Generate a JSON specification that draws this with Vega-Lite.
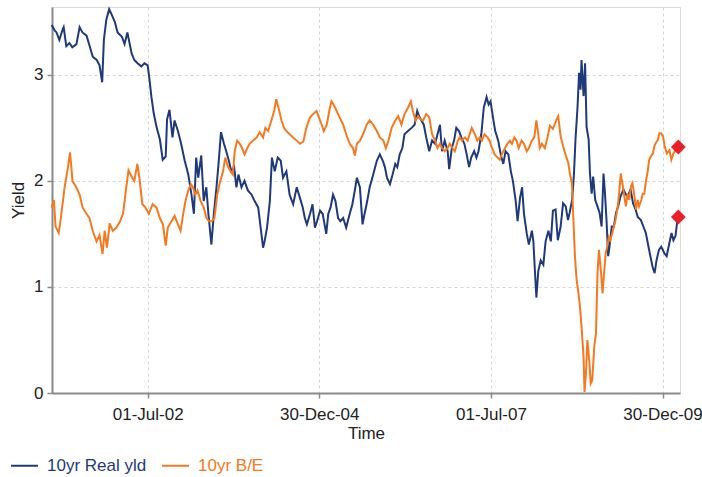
{
"$schema":"https://vega.github.io/schema/vega-lite/v6.json",
"width":628,"height":386,
"autosize":{"type":"none"},
"padding":{"left":52,"top":7,"right":22,"bottom":84},
"background":"white",
"config":{
"font":"Liberation Sans",
"view":{"stroke":"#dcdcdc","strokeWidth":1},
"axis":{"labelFont":"Liberation Sans","titleFont":"Liberation Sans","labelFontSize":17,"titleFontSize":17,"titleFontWeight":"normal","labelColor":"#222222","titleColor":"#222222","domainColor":"#8a8a8a","domainWidth":2,"tickColor":"#8a8a8a","tickWidth":1.5,"tickSize":5,"gridColor":"#d4d4d4","gridDash":[3,3],"gridWidth":1}
},
"datasets":{
"real":[
{"t":"2001-02-05","v":3.47},{"t":"2001-02-21","v":3.42},{"t":"2001-03-03","v":3.40},{"t":"2001-03-18","v":3.33},{"t":"2001-04-05","v":3.43},{"t":"2001-04-10","v":3.45},{"t":"2001-04-24","v":3.27},{"t":"2001-05-11","v":3.30},{"t":"2001-05-26","v":3.26},{"t":"2001-06-17","v":3.29},{"t":"2001-07-04","v":3.45},{"t":"2001-07-19","v":3.40},{"t":"2001-08-10","v":3.37},{"t":"2001-08-25","v":3.28},{"t":"2001-09-12","v":3.17},{"t":"2001-10-03","v":3.14},{"t":"2001-10-18","v":3.09},{"t":"2001-11-01","v":2.93},{"t":"2001-11-10","v":3.33},{"t":"2001-11-23","v":3.52},{"t":"2001-12-08","v":3.62},{"t":"2001-12-21","v":3.57},
{"t":"2002-01-07","v":3.50},{"t":"2002-01-22","v":3.40},{"t":"2002-02-14","v":3.36},{"t":"2002-02-28","v":3.29},{"t":"2002-03-15","v":3.40},{"t":"2002-04-07","v":3.20},{"t":"2002-04-21","v":3.14},{"t":"2002-05-08","v":3.11},{"t":"2002-05-28","v":3.08},{"t":"2002-06-14","v":3.11},{"t":"2002-07-01","v":3.09},{"t":"2002-07-11","v":2.95},{"t":"2002-07-21","v":2.79},{"t":"2002-08-02","v":2.64},{"t":"2002-08-17","v":2.51},{"t":"2002-09-04","v":2.39},{"t":"2002-09-19","v":2.20},{"t":"2002-10-05","v":2.23},{"t":"2002-10-12","v":2.58},{"t":"2002-10-25","v":2.67},{"t":"2002-11-10","v":2.41},{"t":"2002-11-21","v":2.57},{"t":"2002-12-09","v":2.47},{"t":"2002-12-26","v":2.35},
{"t":"2003-01-14","v":2.19},{"t":"2003-02-02","v":2.06},{"t":"2003-02-19","v":1.87},{"t":"2003-03-04","v":1.69},{"t":"2003-03-16","v":2.22},{"t":"2003-03-27","v":2.03},{"t":"2003-04-12","v":2.24},{"t":"2003-04-25","v":1.81},{"t":"2003-05-09","v":1.94},{"t":"2003-05-20","v":1.69},{"t":"2003-06-05","v":1.40},{"t":"2003-06-18","v":1.69},{"t":"2003-07-02","v":1.94},{"t":"2003-07-13","v":2.16},{"t":"2003-07-26","v":2.46},{"t":"2003-08-11","v":2.35},{"t":"2003-08-23","v":2.28},{"t":"2003-09-06","v":2.19},{"t":"2003-09-19","v":2.09},{"t":"2003-10-04","v":2.13},{"t":"2003-10-16","v":1.94},{"t":"2003-10-27","v":2.06},{"t":"2003-11-12","v":1.94},{"t":"2003-11-28","v":2.00},{"t":"2003-12-16","v":1.91},
{"t":"2004-01-05","v":1.87},{"t":"2004-01-21","v":1.81},{"t":"2004-02-09","v":1.75},{"t":"2004-02-22","v":1.56},{"t":"2004-03-06","v":1.37},{"t":"2004-03-14","v":1.43},{"t":"2004-03-27","v":1.56},{"t":"2004-04-11","v":1.81},{"t":"2004-04-22","v":2.22},{"t":"2004-05-07","v":2.09},{"t":"2004-05-23","v":2.22},{"t":"2004-06-08","v":2.19},{"t":"2004-06-20","v":2.03},{"t":"2004-07-08","v":2.09},{"t":"2004-07-25","v":1.87},{"t":"2004-08-13","v":1.78},{"t":"2004-09-01","v":1.94},{"t":"2004-09-18","v":1.84},{"t":"2004-10-03","v":1.75},{"t":"2004-10-14","v":1.65},{"t":"2004-10-25","v":1.59},{"t":"2004-11-11","v":1.69},{"t":"2004-11-24","v":1.78},{"t":"2004-12-07","v":1.56},{"t":"2004-12-18","v":1.62},
{"t":"2005-01-03","v":1.72},{"t":"2005-01-17","v":1.69},{"t":"2005-02-05","v":1.50},{"t":"2005-02-16","v":1.69},{"t":"2005-02-28","v":1.75},{"t":"2005-03-13","v":1.87},{"t":"2005-03-26","v":1.81},{"t":"2005-04-09","v":1.65},{"t":"2005-04-21","v":1.62},{"t":"2005-05-06","v":1.65},{"t":"2005-05-22","v":1.56},{"t":"2005-06-10","v":1.69},{"t":"2005-06-24","v":1.78},{"t":"2005-07-07","v":1.91},{"t":"2005-07-18","v":2.03},{"t":"2005-08-03","v":1.94},{"t":"2005-08-17","v":1.59},{"t":"2005-08-28","v":1.69},{"t":"2005-09-11","v":1.81},{"t":"2005-09-24","v":1.94},{"t":"2005-10-13","v":2.06},{"t":"2005-11-01","v":2.19},{"t":"2005-11-17","v":2.25},{"t":"2005-12-03","v":2.19},{"t":"2005-12-14","v":2.13},{"t":"2005-12-25","v":2.03},
{"t":"2006-01-10","v":1.97},{"t":"2006-01-24","v":2.06},{"t":"2006-02-07","v":2.16},{"t":"2006-02-18","v":2.13},{"t":"2006-03-03","v":2.25},{"t":"2006-03-17","v":2.31},{"t":"2006-03-28","v":2.44},{"t":"2006-04-16","v":2.47},{"t":"2006-05-05","v":2.50},{"t":"2006-05-21","v":2.53},{"t":"2006-06-04","v":2.66},{"t":"2006-06-14","v":2.61},{"t":"2006-06-26","v":2.57},{"t":"2006-07-09","v":2.53},{"t":"2006-07-22","v":2.41},{"t":"2006-08-07","v":2.28},{"t":"2006-08-22","v":2.38},{"t":"2006-09-07","v":2.35},{"t":"2006-09-20","v":2.44},{"t":"2006-10-03","v":2.53},{"t":"2006-10-14","v":2.28},{"t":"2006-10-28","v":2.38},{"t":"2006-11-13","v":2.28},{"t":"2006-11-21","v":2.11},{"t":"2006-12-05","v":2.31},{"t":"2006-12-17","v":2.38},{"t":"2006-12-29","v":2.50},
{"t":"2007-01-12","v":2.47},{"t":"2007-01-25","v":2.41},{"t":"2007-02-10","v":2.35},{"t":"2007-02-22","v":2.25},{"t":"2007-03-07","v":2.13},{"t":"2007-03-18","v":2.22},{"t":"2007-04-03","v":2.28},{"t":"2007-04-15","v":2.22},{"t":"2007-04-26","v":2.28},{"t":"2007-05-11","v":2.44},{"t":"2007-05-24","v":2.69},{"t":"2007-06-08","v":2.79},{"t":"2007-06-19","v":2.72},{"t":"2007-06-29","v":2.75},{"t":"2007-07-12","v":2.60},{"t":"2007-07-24","v":2.47},{"t":"2007-08-09","v":2.38},{"t":"2007-08-22","v":2.25},{"t":"2007-09-05","v":2.16},{"t":"2007-09-17","v":2.28},{"t":"2007-10-02","v":2.25},{"t":"2007-10-15","v":2.09},{"t":"2007-10-26","v":2.00},{"t":"2007-11-10","v":1.81},{"t":"2007-11-20","v":1.62},{"t":"2007-12-03","v":1.84},{"t":"2007-12-14","v":1.94},{"t":"2007-12-24","v":1.69},
{"t":"2008-01-08","v":1.50},{"t":"2008-01-19","v":1.40},{"t":"2008-02-04","v":1.53},{"t":"2008-02-12","v":1.43},{"t":"2008-02-21","v":1.12},{"t":"2008-02-28","v":0.90},{"t":"2008-03-09","v":1.15},{"t":"2008-03-22","v":1.25},{"t":"2008-04-05","v":1.21},{"t":"2008-04-17","v":1.43},{"t":"2008-05-02","v":1.53},{"t":"2008-05-15","v":1.43},{"t":"2008-05-26","v":1.72},{"t":"2008-06-09","v":1.73},{"t":"2008-06-21","v":1.44},{"t":"2008-07-06","v":1.57},{"t":"2008-07-19","v":1.79},{"t":"2008-08-02","v":1.76},{"t":"2008-08-14","v":1.63},{"t":"2008-08-23","v":1.70},{"t":"2008-09-05","v":1.82},{"t":"2008-09-15","v":2.07},{"t":"2008-09-23","v":2.39},{"t":"2008-10-04","v":2.70},{"t":"2008-10-12","v":3.02},{"t":"2008-10-20","v":2.86},{"t":"2008-10-25","v":3.14},{"t":"2008-11-05","v":2.80},{"t":"2008-11-13","v":3.11},{"t":"2008-11-21","v":2.51},{"t":"2008-12-02","v":2.39},{"t":"2008-12-09","v":2.07},{"t":"2008-12-18","v":1.88},{"t":"2008-12-26","v":2.04},
{"t":"2009-01-06","v":1.82},{"t":"2009-01-18","v":1.76},{"t":"2009-01-29","v":1.70},{"t":"2009-02-09","v":1.57},{"t":"2009-02-19","v":2.07},{"t":"2009-02-27","v":1.88},{"t":"2009-03-07","v":1.63},{"t":"2009-03-16","v":1.29},{"t":"2009-03-23","v":1.38},{"t":"2009-04-04","v":1.57},{"t":"2009-04-15","v":1.57},{"t":"2009-04-27","v":1.70},{"t":"2009-05-08","v":1.76},{"t":"2009-05-20","v":1.85},{"t":"2009-06-05","v":1.92},{"t":"2009-06-16","v":1.88},{"t":"2009-06-27","v":1.85},{"t":"2009-07-13","v":1.92},{"t":"2009-07-26","v":1.79},{"t":"2009-08-09","v":1.73},{"t":"2009-08-20","v":1.66},{"t":"2009-09-06","v":1.63},{"t":"2009-09-19","v":1.57},{"t":"2009-10-02","v":1.51},{"t":"2009-10-13","v":1.41},{"t":"2009-10-23","v":1.32},{"t":"2009-11-07","v":1.19},{"t":"2009-11-18","v":1.13},{"t":"2009-11-28","v":1.25},{"t":"2009-12-11","v":1.35},{"t":"2009-12-23","v":1.38},
{"t":"2010-01-08","v":1.32},{"t":"2010-01-21","v":1.29},{"t":"2010-02-04","v":1.41},{"t":"2010-02-16","v":1.51},{"t":"2010-02-26","v":1.44},{"t":"2010-03-09","v":1.48},{"t":"2010-03-17","v":1.60},{"t":"2010-03-24","v":1.66}
],
"be":[
{"t":"2001-02-05","v":1.75},{"t":"2001-02-17","v":1.82},{"t":"2001-02-26","v":1.57},{"t":"2001-03-15","v":1.51},{"t":"2001-03-26","v":1.65},{"t":"2001-04-15","v":1.94},{"t":"2001-05-03","v":2.13},{"t":"2001-05-14","v":2.27},{"t":"2001-05-27","v":2.00},{"t":"2001-06-16","v":1.94},{"t":"2001-07-04","v":1.87},{"t":"2001-07-20","v":1.75},{"t":"2001-08-09","v":1.69},{"t":"2001-08-25","v":1.65},{"t":"2001-09-13","v":1.52},{"t":"2001-10-02","v":1.43},{"t":"2001-10-18","v":1.49},{"t":"2001-11-03","v":1.31},{"t":"2001-11-14","v":1.53},{"t":"2001-11-26","v":1.37},{"t":"2001-12-11","v":1.60},{"t":"2001-12-27","v":1.53},
{"t":"2002-01-16","v":1.56},{"t":"2002-02-04","v":1.62},{"t":"2002-02-20","v":1.69},{"t":"2002-03-09","v":1.94},{"t":"2002-03-21","v":2.10},{"t":"2002-04-10","v":2.03},{"t":"2002-04-21","v":2.00},{"t":"2002-05-07","v":2.16},{"t":"2002-05-18","v":2.03},{"t":"2002-06-03","v":1.78},{"t":"2002-06-19","v":1.75},{"t":"2002-07-07","v":1.69},{"t":"2002-07-27","v":1.78},{"t":"2002-08-16","v":1.75},{"t":"2002-09-04","v":1.65},{"t":"2002-09-20","v":1.59},{"t":"2002-10-05","v":1.39},{"t":"2002-10-16","v":1.56},{"t":"2002-11-05","v":1.62},{"t":"2002-11-21","v":1.67},{"t":"2002-12-09","v":1.59},{"t":"2002-12-23","v":1.53},
{"t":"2003-01-06","v":1.69},{"t":"2003-01-18","v":1.81},{"t":"2003-02-02","v":1.91},{"t":"2003-02-16","v":1.97},{"t":"2003-02-27","v":1.94},{"t":"2003-03-11","v":1.87},{"t":"2003-03-23","v":1.91},{"t":"2003-04-09","v":1.81},{"t":"2003-04-25","v":1.75},{"t":"2003-05-10","v":1.65},{"t":"2003-05-23","v":1.62},{"t":"2003-06-08","v":1.62},{"t":"2003-06-21","v":1.65},{"t":"2003-07-06","v":1.87},{"t":"2003-07-18","v":1.97},{"t":"2003-08-06","v":2.09},{"t":"2003-08-18","v":2.22},{"t":"2003-09-02","v":2.13},{"t":"2003-09-16","v":2.09},{"t":"2003-09-27","v":2.06},{"t":"2003-10-07","v":2.28},{"t":"2003-10-20","v":2.38},{"t":"2003-11-03","v":2.35},{"t":"2003-11-15","v":2.31},{"t":"2003-11-28","v":2.25},{"t":"2003-12-13","v":2.31},{"t":"2003-12-25","v":2.35},
{"t":"2004-01-13","v":2.38},{"t":"2004-02-01","v":2.41},{"t":"2004-02-17","v":2.46},{"t":"2004-03-06","v":2.41},{"t":"2004-03-18","v":2.50},{"t":"2004-04-02","v":2.47},{"t":"2004-04-19","v":2.57},{"t":"2004-05-04","v":2.66},{"t":"2004-05-15","v":2.77},{"t":"2004-05-27","v":2.69},{"t":"2004-06-12","v":2.57},{"t":"2004-06-25","v":2.50},{"t":"2004-07-08","v":2.47},{"t":"2004-07-25","v":2.44},{"t":"2004-08-13","v":2.41},{"t":"2004-09-01","v":2.38},{"t":"2004-09-18","v":2.35},{"t":"2004-10-06","v":2.37},{"t":"2004-10-22","v":2.50},{"t":"2004-11-11","v":2.60},{"t":"2004-11-27","v":2.63},{"t":"2004-12-15","v":2.66},{"t":"2004-12-28","v":2.60},
{"t":"2005-01-12","v":2.53},{"t":"2005-01-23","v":2.47},{"t":"2005-02-08","v":2.53},{"t":"2005-02-21","v":2.66},{"t":"2005-03-05","v":2.75},{"t":"2005-03-16","v":2.72},{"t":"2005-04-01","v":2.66},{"t":"2005-04-17","v":2.60},{"t":"2005-05-06","v":2.53},{"t":"2005-05-22","v":2.44},{"t":"2005-06-10","v":2.35},{"t":"2005-06-27","v":2.31},{"t":"2005-07-07","v":2.24},{"t":"2005-07-18","v":2.35},{"t":"2005-08-03","v":2.38},{"t":"2005-08-20","v":2.44},{"t":"2005-09-08","v":2.53},{"t":"2005-09-24","v":2.57},{"t":"2005-10-13","v":2.53},{"t":"2005-11-01","v":2.47},{"t":"2005-11-17","v":2.41},{"t":"2005-12-06","v":2.38},{"t":"2005-12-19","v":2.31},
{"t":"2006-01-02","v":2.38},{"t":"2006-01-19","v":2.50},{"t":"2006-02-07","v":2.57},{"t":"2006-02-23","v":2.61},{"t":"2006-03-12","v":2.53},{"t":"2006-03-28","v":2.63},{"t":"2006-04-16","v":2.69},{"t":"2006-05-01","v":2.75},{"t":"2006-05-12","v":2.66},{"t":"2006-05-26","v":2.57},{"t":"2006-06-09","v":2.61},{"t":"2006-06-21","v":2.58},{"t":"2006-07-05","v":2.57},{"t":"2006-07-22","v":2.63},{"t":"2006-08-07","v":2.60},{"t":"2006-08-22","v":2.44},{"t":"2006-09-07","v":2.38},{"t":"2006-09-20","v":2.31},{"t":"2006-10-03","v":2.35},{"t":"2006-10-14","v":2.31},{"t":"2006-10-28","v":2.28},{"t":"2006-11-13","v":2.31},{"t":"2006-11-24","v":2.35},{"t":"2006-12-08","v":2.31},{"t":"2006-12-21","v":2.28},
{"t":"2007-01-06","v":2.38},{"t":"2007-01-17","v":2.41},{"t":"2007-01-28","v":2.38},{"t":"2007-02-13","v":2.41},{"t":"2007-02-27","v":2.38},{"t":"2007-03-10","v":2.44},{"t":"2007-03-21","v":2.50},{"t":"2007-04-07","v":2.44},{"t":"2007-04-20","v":2.38},{"t":"2007-05-03","v":2.41},{"t":"2007-05-14","v":2.38},{"t":"2007-05-28","v":2.44},{"t":"2007-06-13","v":2.41},{"t":"2007-06-24","v":2.38},{"t":"2007-07-07","v":2.31},{"t":"2007-07-21","v":2.25},{"t":"2007-08-06","v":2.22},{"t":"2007-08-17","v":2.20},{"t":"2007-08-28","v":2.25},{"t":"2007-09-14","v":2.31},{"t":"2007-09-27","v":2.35},{"t":"2007-10-10","v":2.38},{"t":"2007-10-21","v":2.35},{"t":"2007-11-03","v":2.41},{"t":"2007-11-15","v":2.38},{"t":"2007-11-26","v":2.31},{"t":"2007-12-11","v":2.38},{"t":"2007-12-24","v":2.35},
{"t":"2008-01-08","v":2.28},{"t":"2008-01-19","v":2.31},{"t":"2008-02-04","v":2.38},{"t":"2008-02-17","v":2.41},{"t":"2008-02-28","v":2.57},{"t":"2008-03-09","v":2.44},{"t":"2008-03-17","v":2.31},{"t":"2008-03-28","v":2.35},{"t":"2008-04-13","v":2.31},{"t":"2008-04-27","v":2.41},{"t":"2008-05-10","v":2.52},{"t":"2008-05-26","v":2.49},{"t":"2008-06-15","v":2.58},{"t":"2008-06-23","v":2.61},{"t":"2008-07-06","v":2.42},{"t":"2008-07-19","v":2.33},{"t":"2008-08-04","v":2.23},{"t":"2008-08-16","v":2.17},{"t":"2008-08-24","v":2.07},{"t":"2008-09-04","v":1.98},{"t":"2008-09-12","v":1.63},{"t":"2008-09-20","v":1.29},{"t":"2008-09-29","v":1.07},{"t":"2008-10-09","v":0.94},{"t":"2008-10-17","v":0.81},{"t":"2008-10-25","v":0.63},{"t":"2008-11-05","v":0.34},{"t":"2008-11-10","v":0.01},{"t":"2008-11-18","v":0.19},{"t":"2008-11-25","v":0.50},{"t":"2008-12-05","v":0.31},{"t":"2008-12-13","v":0.09},{"t":"2008-12-21","v":0.12},
{"t":"2009-01-01","v":0.44},{"t":"2009-01-10","v":0.56},{"t":"2009-01-18","v":1.13},{"t":"2009-01-26","v":1.35},{"t":"2009-02-06","v":1.13},{"t":"2009-02-14","v":0.94},{"t":"2009-02-22","v":1.13},{"t":"2009-03-03","v":1.32},{"t":"2009-03-11","v":1.38},{"t":"2009-03-19","v":1.47},{"t":"2009-03-27","v":1.44},{"t":"2009-04-07","v":1.51},{"t":"2009-04-15","v":1.57},{"t":"2009-04-24","v":1.63},{"t":"2009-05-06","v":1.76},{"t":"2009-05-13","v":1.88},{"t":"2009-05-22","v":2.07},{"t":"2009-06-02","v":1.95},{"t":"2009-06-10","v":1.85},{"t":"2009-06-18","v":1.76},{"t":"2009-06-27","v":1.88},{"t":"2009-07-06","v":1.82},{"t":"2009-07-15","v":1.95},{"t":"2009-07-23","v":1.98},{"t":"2009-08-03","v":1.85},{"t":"2009-08-11","v":1.73},{"t":"2009-08-20","v":1.82},{"t":"2009-08-27","v":1.76},{"t":"2009-09-08","v":1.82},{"t":"2009-09-16","v":1.88},{"t":"2009-09-24","v":1.88},{"t":"2009-10-04","v":2.01},{"t":"2009-10-13","v":2.10},{"t":"2009-10-20","v":2.20},{"t":"2009-10-29","v":2.23},{"t":"2009-11-09","v":2.26},{"t":"2009-11-17","v":2.33},{"t":"2009-11-25","v":2.36},{"t":"2009-12-06","v":2.39},{"t":"2009-12-13","v":2.45},{"t":"2009-12-22","v":2.45},
{"t":"2010-01-02","v":2.42},{"t":"2010-01-10","v":2.33},{"t":"2010-01-22","v":2.26},{"t":"2010-02-05","v":2.29},{"t":"2010-02-15","v":2.20},{"t":"2010-02-26","v":2.26},{"t":"2010-03-10","v":2.29},{"t":"2010-03-24","v":2.32}
],
"last":[{"t":"2010-03-24","v":1.66},{"t":"2010-03-24","v":2.32}]
},
"layer":[
{"data":{"name":"real"},
"mark":{"type":"line","strokeWidth":2},
"encoding":{
"x":{"field":"t","type":"temporal","scale":{"type":"utc","domain":[{"year":2001,"month":2,"date":7,"utc":true},{"year":2010,"month":4,"date":2,"utc":true}]},
"axis":{"title":"Time","format":"%d-%b-%y","values":[{"year":2002,"month":7,"date":1,"utc":true},{"year":2004,"month":12,"date":30,"utc":true},{"year":2007,"month":7,"date":1,"utc":true},{"year":2009,"month":12,"date":30,"utc":true}],"labelPadding":8,"titlePadding":3,"grid":true}},
"y":{"field":"v","type":"quantitative","scale":{"domain":[0,3.64],"nice":false,"zero":true},"axis":{"title":"Yield","format":"d","values":[0,1,2,3],"labelPadding":4,"titlePadding":6,"grid":true}},
"color":{"datum":"10yr Real yld","type":"nominal","scale":{"domain":["10yr Real yld","10yr B/E"],"range":["#1f3a7a","#f47920"]},
"legend":{"title":null,"orient":"none","legendX":-42,"legendY":444,"direction":"horizontal","symbolType":"stroke","symbolSize":729,"symbolStrokeWidth":2,"labelFont":"Liberation Sans","labelFontSize":17,"labelOffset":8,"columnPadding":11,"padding":0,
"encode":{"labels":{"update":{"fill":{"signal":"scale('color', datum.value)"}}}}}}
}},
{"data":{"name":"be"},
"mark":{"type":"line","strokeWidth":2},
"encoding":{
"x":{"field":"t","type":"temporal"},
"y":{"field":"v","type":"quantitative"},
"color":{"datum":"10yr B/E","type":"nominal"}
}},
{"data":{"name":"last"},
"mark":{"type":"point","shape":"diamond","filled":true,"size":220,"color":"#e8202a","opacity":1},
"encoding":{
"x":{"field":"t","type":"temporal"},
"y":{"field":"v","type":"quantitative"}
}}
]
}
